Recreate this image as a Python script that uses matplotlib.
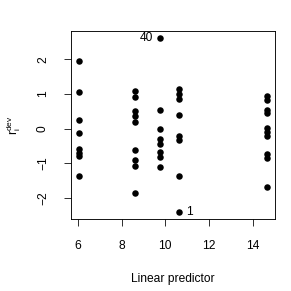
import numpy as np
import matplotlib
matplotlib.use("Agg")
import matplotlib.pyplot as plt

plt.rcParams['font.family'] = ['Liberation Sans', 'DejaVu Sans']
plt.rcParams['mathtext.fontset'] = 'custom'
plt.rcParams['mathtext.rm'] = 'Liberation Sans'
plt.rcParams['mathtext.it'] = 'Liberation Sans'

# fitted values (linear predictor) and deviance residuals
lp_levels = [6.03, 8.6, 9.75, 10.63, 14.67]
res_col1 = [1.95, 1.06, 0.25, -0.12, -0.59, -0.70, -0.79, -1.36]
res_col2 = [1.08, 0.92, 0.51, 0.37, 0.18, -0.62, -0.91, -1.08, -1.86]
res_col3 = [2.62, 0.53, -0.01, -0.30, -0.45, -0.67, -0.81, -1.10]
res_col4 = [1.14, 1.00, 0.85, 0.39, -0.21, -0.33, -1.36, -2.41]
res_col5 = [0.94, 0.82, 0.55, 0.44, 0.02, -0.10, -0.22, -0.72, -0.85, -1.70]

# labelled points: (linear predictor, residual, label)
labelled = [(9.75, 2.62, "40", "left"), (10.63, -2.41, "1", "right")]

xticks = [6, 8, 10, 12, 14]
yticks = [-2, -1, 0, 1, 2]

cols = [res_col1, res_col2, res_col3, res_col4, res_col5]
x = np.concatenate([[lp] * len(c) for lp, c in zip(lp_levels, cols)])
y = np.concatenate(cols)

fig = plt.figure(figsize=(291 / 72, 291 / 72), dpi=72)
ax = fig.add_axes([71 / 291, 1 - 219 / 291, 204 / 291, 188 / 291])

ax.plot(x, y, 'o', color='black', ms=6.5, mew=0)

# R style 4% padding
xr = x.max() - x.min()
yr = y.max() - y.min()
ax.set_xlim(x.min() - 0.04 * xr, x.max() + 0.04 * xr)
ax.set_ylim(y.min() - 0.04 * yr, y.max() + 0.04 * yr)

for px, py, lab, side in labelled:
    if side == "left":
        ax.annotate(lab, (px, py), xytext=(-7, 0), textcoords='offset points',
                    ha='right', va='center', fontsize=12)
    else:
        ax.annotate(lab, (px, py), xytext=(7, 0), textcoords='offset points',
                    ha='left', va='center', fontsize=12)

ax.set_xticks(xticks)
ax.set_yticks(yticks)
ax.set_xticklabels([str(t) for t in xticks])
ax.set_yticklabels([str(t).replace('-', '\u2212') for t in yticks], rotation=90, va='center')
ax.tick_params(axis='x', length=7, width=0.8, pad=14, labelsize=12)
ax.tick_params(axis='y', length=7, width=0.8, pad=15, labelsize=12)
for s in ax.spines.values():
    s.set_linewidth(0.9)

ax.set_xlabel("Linear predictor", fontsize=12)
ax.xaxis.set_label_coords(0.5, -0.285)
ax.set_ylabel(r"$\mathrm{r}_{\mathrm{i}}^{\mathrm{dev}}$", fontsize=12)
ax.yaxis.label.set(ha='center', va='center')
ax.yaxis.set_label_coords(-0.28, 0.5)

fig.savefig("out.png", dpi=72)
